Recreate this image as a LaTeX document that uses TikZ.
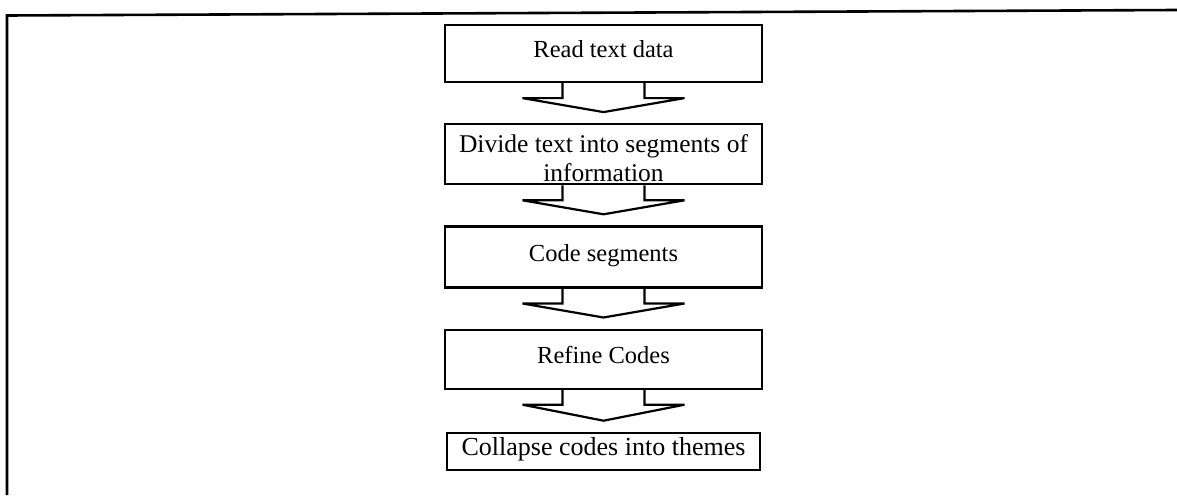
\documentclass[tikz,border=0pt]{standalone}
\usepackage{fontspec}
\setmainfont{Liberation Serif}
\usetikzlibrary{calc,positioning}

\begin{document}
\begin{tikzpicture}[x=1pt, y=-1pt, node distance=40pt,
    stepbox/.style={draw, line width=2.2pt, minimum width=317pt, inner sep=0pt,
      font=\fontsize{24.5}{29}\selectfont, text height=17pt, text depth=8pt},
    blockarrow/.style={draw, line width=2.2pt, line join=miter}]
  \useasboundingbox (0,0) rectangle (1177,495);
  \draw[line width=2.6pt] (7,495) -- (7,15.5) -- (1177,10);
  \node[stepbox, minimum height=57pt] (read) at (603.5,53.5) {Read text data};
  \node[stepbox, minimum height=60pt, below=of read] (divide) {};
  \node[font=\fontsize{25.5}{29}\selectfont, align=center, yshift=-4pt] (dividetext) at (divide) {Divide text into segments of\\information};
  \node[stepbox, minimum height=61pt, below=of divide] (code) {Code segments};
  \node[stepbox, minimum height=59pt, below=of code] (refine) {Refine Codes};
  \node[stepbox, minimum height=37pt, minimum width=313pt, below=42pt of refine,
    font=\fontsize{26}{29}\selectfont] (collapse) {Collapse codes into themes};
  \foreach \a/\b in {read/divide, divide/code, code/refine, refine/collapse}
    \draw[blockarrow] ($(\a.south)+(-41,0)$) -- ++(0,15) -- ++(-40,0)
      -- ($(\b.north)+(0,-11)$) -- ($(\a.south)+(81,15)$) -- ++(-40,0) -- ++(0,-15);
\end{tikzpicture}
\end{document}
